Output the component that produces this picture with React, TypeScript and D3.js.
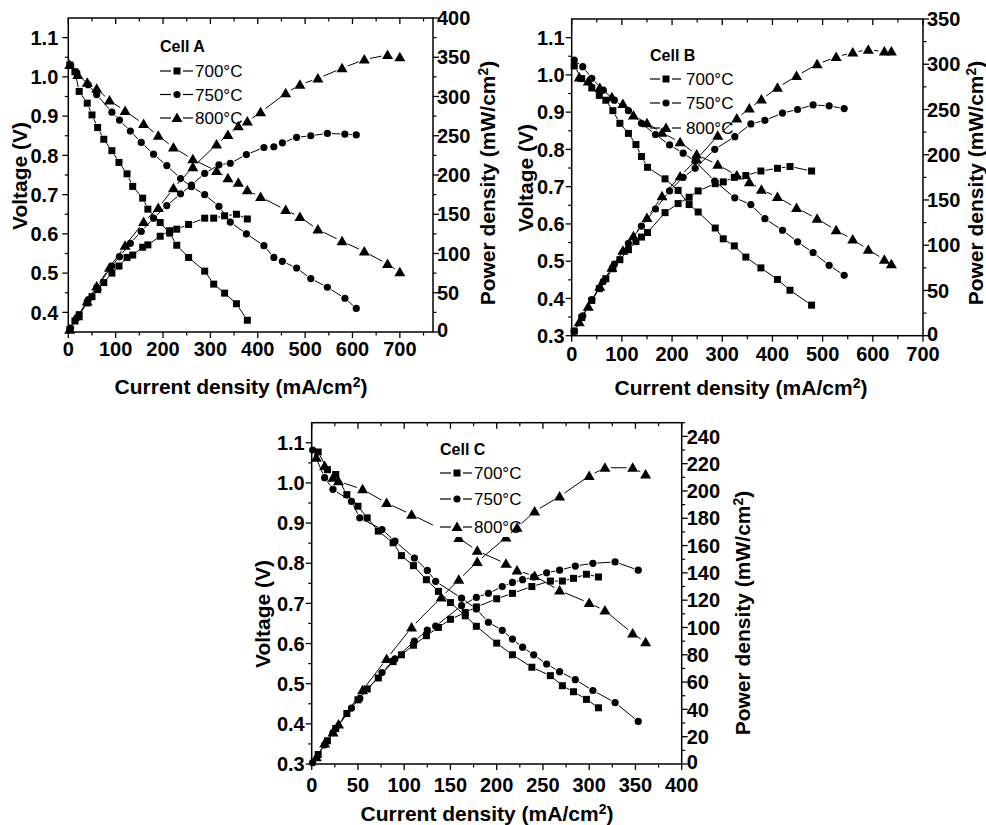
import React from 'react';
import * as d3 from 'd3';

// ---- Cell A ----
const aI700 = [3, 14, 23, 40, 50, 62, 75, 92, 107, 124, 136, 157, 168, 194, 214, 229, 254, 288, 307, 330, 355, 378];
const aV700 = [1.03, 1.013, 0.963, 0.933, 0.903, 0.871, 0.841, 0.812, 0.782, 0.753, 0.721, 0.691, 0.663, 0.629, 0.602, 0.571, 0.54, 0.505, 0.472, 0.449, 0.422, 0.38];
const aP700 = [3, 14, 22, 37, 45, 54, 63, 75, 84, 95, 98, 108, 111, 122, 129, 131, 137, 145, 145, 148, 150, 144];

const aI750 = [5, 18, 42, 60, 92, 108, 131, 154, 180, 208, 237, 260, 288, 318, 342, 376, 413, 434, 452, 482, 512, 547, 584, 608];
const aV750 = [1.03, 1.01, 0.98, 0.955, 0.91, 0.89, 0.862, 0.833, 0.803, 0.774, 0.741, 0.72, 0.7, 0.67, 0.63, 0.6, 0.57, 0.54, 0.53, 0.513, 0.486, 0.464, 0.436, 0.41];
const aP750 = [5, 18, 41, 57, 84, 96, 113, 128, 145, 161, 176, 187, 202, 213, 215, 226, 235, 236, 241, 248, 250, 253, 252, 251];

const aI800 = [3, 20, 40, 60, 87, 120, 159, 190, 222, 263, 313, 337, 359, 378, 406, 459, 489, 527, 578, 625, 674, 700];
const aV800 = [1.03, 1.005, 0.985, 0.97, 0.94, 0.913, 0.88, 0.85, 0.82, 0.79, 0.76, 0.742, 0.73, 0.711, 0.694, 0.661, 0.643, 0.611, 0.581, 0.555, 0.523, 0.502];
const aP800 = [3, 20, 39, 58, 82, 110, 140, 158, 183, 210, 239, 251, 262, 268, 280, 304, 315, 323, 336, 347, 353, 350];

// ---- Cell B ----
const bI700 = [5, 20, 40, 55, 68, 82, 96, 113, 128, 139, 151, 186, 212, 234, 252, 286, 302, 324, 347, 377, 410, 435, 478];
const bV700 = [1.024, 0.99, 0.965, 0.945, 0.932, 0.904, 0.87, 0.843, 0.813, 0.781, 0.752, 0.721, 0.69, 0.652, 0.632, 0.589, 0.56, 0.541, 0.511, 0.482, 0.451, 0.422, 0.382];
const bP700 = [5, 20, 39, 52, 63, 74, 84, 95, 104, 109, 114, 136, 146, 153, 160, 168, 170, 175, 177, 182, 185, 187, 182];

const bI750 = [5, 22, 40, 63, 85, 113, 139, 167, 195, 222, 246, 285, 325, 357, 385, 420, 450, 481, 513, 543];
const bV750 = [1.04, 1.022, 0.991, 0.959, 0.932, 0.904, 0.87, 0.84, 0.812, 0.79, 0.768, 0.715, 0.67, 0.652, 0.614, 0.583, 0.552, 0.523, 0.489, 0.462];
const bP750 = [5, 22, 40, 60, 79, 102, 121, 140, 160, 175, 185, 206, 220, 234, 238, 246, 250, 255, 254, 251];

const bI800 = [15, 33, 56, 80, 102, 123, 150, 180, 216, 249, 291, 329, 354, 378, 410, 448, 489, 527, 560, 591, 623, 637];
const bV800 = [0.993, 0.982, 0.965, 0.94, 0.922, 0.891, 0.87, 0.845, 0.819, 0.786, 0.759, 0.73, 0.712, 0.692, 0.672, 0.643, 0.614, 0.583, 0.558, 0.531, 0.504, 0.492];
const bP800 = [15, 32, 54, 75, 94, 110, 130, 154, 176, 195, 221, 240, 251, 261, 274, 287, 300, 308, 313, 316, 314, 314];

// ---- Cell C ----
const cI700 = [7, 17, 26, 38, 50, 60, 72, 88, 97, 110, 124, 137, 150, 166, 178, 200, 217, 238, 258, 271, 283, 297, 310];
const cV700 = [1.077, 1.033, 1.021, 0.971, 0.942, 0.913, 0.88, 0.851, 0.819, 0.794, 0.759, 0.73, 0.702, 0.669, 0.643, 0.601, 0.572, 0.541, 0.52, 0.495, 0.48, 0.461, 0.44];
const cP700 = [7, 17, 26, 37, 47, 55, 63, 75, 80, 87, 94, 100, 106, 111, 115, 121, 125, 130, 134, 134, 136, 139, 137];

const cI750 = [1, 14, 23, 43, 52, 76, 90, 111, 125, 134, 162, 178, 191, 206, 217, 228, 240, 254, 268, 285, 304, 328, 353];
const cV750 = [1.082, 1.013, 0.984, 0.954, 0.913, 0.884, 0.855, 0.813, 0.782, 0.755, 0.713, 0.686, 0.653, 0.633, 0.611, 0.591, 0.572, 0.549, 0.53, 0.51, 0.483, 0.453, 0.406];
const cP750 = [1, 14, 23, 41, 48, 67, 77, 90, 98, 101, 116, 122, 125, 130, 133, 135, 137, 140, 142, 145, 147, 148, 142];

const cI800 = [5, 14, 23, 29, 55, 81, 108, 140, 159, 179, 210, 222, 241, 268, 300, 317, 347, 361];
const cV800 = [1.063, 1.042, 1.013, 1.004, 0.984, 0.95, 0.921, 0.885, 0.863, 0.831, 0.799, 0.782, 0.768, 0.732, 0.701, 0.682, 0.625, 0.603];
const cP800 = [5, 15, 23, 29, 54, 77, 100, 122, 135, 148, 166, 173, 185, 196, 211, 217, 217, 212];

const tempLabels = ['700\u00B0C', '750\u00B0C', '800\u00B0C'];
const markerKinds = ['square', 'circle', 'triangle'];

const FONT = '"Liberation Sans", Arial, Helvetica, sans-serif';

function Marker({ kind, x, y }) {
  if (kind === 'square') return <rect x={x - 3.5} y={y - 3.5} width={7} height={7} fill="#000" />;
  if (kind === 'circle') return <circle cx={x} cy={y} r={3.6} fill="#000" />;
  return <path d={`M${x},${y - 5.5}L${x + 5.5},${y + 4}L${x - 5.5},${y + 4}Z`} fill="#000" />;
}

// segments between points, with a small gap round each symbol
function GapLine({ pts, gap }) {
  const segs = [];
  for (let i = 1; i < pts.length; i++) {
    const [x0, y0] = pts[i - 1];
    const [x1, y1] = pts[i];
    const len = Math.hypot(x1 - x0, y1 - y0);
    if (len <= gap * 2 + 1) continue;
    const ux = (x1 - x0) / len, uy = (y1 - y0) / len;
    segs.push(<line key={i} x1={x0 + ux * gap} y1={y0 + uy * gap} x2={x1 - ux * gap} y2={y1 - uy * gap} stroke="#000" strokeWidth={1} />);
  }
  return <g>{segs}</g>;
}

function steps(from, to, step) {
  const n = Math.round((to - from) / step);
  return d3.range(n + 1).map((i) => +(from + i * step).toFixed(4));
}

function Panel({ cfg }) {
  const x = d3.scaleLinear().domain(cfg.xDomain).range([cfg.left, cfg.right]);
  const yv = d3.scaleLinear().domain(cfg.vDomain).range([cfg.bottom, cfg.top]);
  const yp = d3.scaleLinear().domain(cfg.pDomain).range([cfg.bottom, cfg.top]);
  const fmtV = d3.format('.1f');
  const major = 6, minor = 3.5;

  return (
    <g>
      {/* frame */}
      <rect x={cfg.left} y={cfg.top} width={cfg.right - cfg.left} height={cfg.bottom - cfg.top} fill="none" stroke="#000" strokeWidth={1.5} />

      {/* bottom + top ticks */}
      {cfg.xMajor.map((v) => (
        <g key={'xm' + v}>
          <line x1={x(v)} x2={x(v)} y1={cfg.bottom} y2={cfg.bottom + major} stroke="#000" strokeWidth={1.3} />
          <line x1={x(v)} x2={x(v)} y1={cfg.top} y2={cfg.top + major} stroke="#000" strokeWidth={1.3} />
          <text x={x(v)} y={cfg.bottom + cfg.xLabelDy} textAnchor="middle" fontSize={20} fontWeight="bold">{v}</text>
        </g>
      ))}
      {cfg.xMinor.map((v) => (
        <g key={'xn' + v}>
          <line x1={x(v)} x2={x(v)} y1={cfg.bottom} y2={cfg.bottom + minor} stroke="#000" strokeWidth={1.2} />
          <line x1={x(v)} x2={x(v)} y1={cfg.top} y2={cfg.top + minor} stroke="#000" strokeWidth={1.2} />
        </g>
      ))}

      {/* left axis */}
      {cfg.vMajor.map((v) => (
        <g key={'vm' + v}>
          <line x1={cfg.left - major} x2={cfg.left} y1={yv(v)} y2={yv(v)} stroke="#000" strokeWidth={1.3} />
          <text x={cfg.left - cfg.vLabelGap} y={yv(v)} dy="0.36em" textAnchor="end" fontSize={20} fontWeight="bold">{fmtV(v)}</text>
        </g>
      ))}
      {cfg.vMinor.map((v) => (
        <line key={'vn' + v} x1={cfg.left - minor} x2={cfg.left} y1={yv(v)} y2={yv(v)} stroke="#000" strokeWidth={1.2} />
      ))}

      {/* right axis */}
      {cfg.pMajor.map((v) => (
        <g key={'pm' + v}>
          <line x1={cfg.right} x2={cfg.right + major} y1={yp(v)} y2={yp(v)} stroke="#000" strokeWidth={1.3} />
          <text x={cfg.right + cfg.pLabelGap} y={yp(v) - (v === 0 ? 2 : 0)} dy="0.36em" textAnchor="start" fontSize={20} fontWeight="bold">{v}</text>
        </g>
      ))}
      {cfg.pMinor.map((v) => (
        <line key={'pn' + v} x1={cfg.right} x2={cfg.right + minor} y1={yp(v)} y2={yp(v)} stroke="#000" strokeWidth={1.2} />
      ))}

      {/* axis titles */}
      <text x={cfg.xTitle[0]} y={cfg.xTitle[1]} textAnchor="middle" fontSize={21} fontWeight="bold">
        Current density (mA/cm<tspan dy={-7} fontSize={14}>2</tspan><tspan dy={7}>)</tspan>
      </text>
      <text transform={`translate(${cfg.vTitle[0]},${cfg.vTitle[1]}) rotate(-90)`} textAnchor="middle" dy="0.36em" fontSize={21} fontWeight="bold">
        Voltage (V)
      </text>
      <text transform={`translate(${cfg.pTitle[0]},${cfg.pTitle[1]}) rotate(-90)`} textAnchor="middle" dy="0.36em" fontSize={21} fontWeight="bold">
        Power density (mW/cm<tspan dy={-7} fontSize={14}>2</tspan><tspan dy={7}>)</tspan>
      </text>

      {/* data */}
      {cfg.series.map((s, k) => {
        const kind = markerKinds[k];
        const gap = kind === 'triangle' ? 6 : 4.5;
        const vPts = s.cur.map((c, i) => [x(c), yv(s.volt[i])]);
        const pPts = s.cur.map((c, i) => [x(c), yp(s.pow[i])]);
        return (
          <g key={'s' + k}>
            <GapLine pts={vPts} gap={gap} />
            <GapLine pts={pPts} gap={gap} />
            {vPts.map(([px, py], i) => <Marker key={'v' + i} kind={kind} x={px} y={py} />)}
            {pPts.map(([px, py], i) => <Marker key={'p' + i} kind={kind} x={px} y={py} />)}
          </g>
        );
      })}

      {/* legend (opaque where the original legend box hides data) */}
      {cfg.legend.cover && (
        <rect x={cfg.legend.cover[0]} y={cfg.legend.cover[1]} width={cfg.legend.cover[2]} height={cfg.legend.cover[3]} fill="#fff" />
      )}
      <text x={cfg.legend.x} y={cfg.legend.titleY} fontSize={16} fontWeight="bold">{cfg.name}</text>
      {tempLabels.map((t, k) => {
        const ly = cfg.legend.rows[k];
        const mx = cfg.legend.markX;
        return (
          <g key={'lg' + k}>
            <line x1={cfg.legend.x} x2={mx - 6} y1={ly} y2={ly} stroke="#000" strokeWidth={1.2} />
            <line x1={mx + 6} x2={cfg.legend.lineEnd} y1={ly} y2={ly} stroke="#000" strokeWidth={1.2} />
            <Marker kind={markerKinds[k]} x={mx} y={ly} />
            <text x={cfg.legend.textX} y={ly} dy="0.36em" fontSize={17}>{t}</text>
          </g>
        );
      })}
    </g>
  );
}

const panels = [
  {
    name: 'Cell A',
    left: 68.3, right: 433, top: 18, bottom: 332,
    xDomain: [0, 770], xMajor: steps(0, 700, 100), xMinor: steps(50, 750, 100),
    vDomain: [0.35, 1.15], vMajor: steps(0.4, 1.1, 0.1), vMinor: steps(0.45, 1.05, 0.1),
    pDomain: [0, 400], pMajor: steps(0, 400, 50), pMinor: steps(25, 375, 50),
    xLabelDy: 24, vLabelGap: 10, pLabelGap: 4,
    xTitle: [241, 394], vTitle: [19, 176], pTitle: [487, 183],
    legend: { x: 160, titleY: 52, rows: [71, 94.5, 118], markX: 177, lineEnd: 193, textX: 195 },
    series: [
      { cur: aI700, volt: aV700, pow: aP700 },
      { cur: aI750, volt: aV750, pow: aP750 },
      { cur: aI800, volt: aV800, pow: aP800 },
    ],
  },
  {
    name: 'Cell B',
    left: 571.7, right: 923, top: 19, bottom: 335.7,
    xDomain: [0, 700], xMajor: steps(0, 700, 100), xMinor: steps(50, 650, 100),
    vDomain: [0.3, 1.15], vMajor: steps(0.3, 1.1, 0.1), vMinor: steps(0.35, 1.05, 0.1),
    pDomain: [0, 350], pMajor: steps(0, 350, 50), pMinor: steps(25, 325, 50),
    xLabelDy: 25, vLabelGap: 7, pLabelGap: 4,
    xTitle: [741, 395], vTitle: [525, 178], pTitle: [975, 183],
    legend: { x: 650, titleY: 61, rows: [79, 103, 128], markX: 666, lineEnd: 681, textX: 686 },
    series: [
      { cur: bI700, volt: bV700, pow: bP700 },
      { cur: bI750, volt: bV750, pow: bP750 },
      { cur: bI800, volt: bV800, pow: bP800 },
    ],
  },
  {
    name: 'Cell C',
    left: 311.7, right: 681.7, top: 422.7, bottom: 764,
    xDomain: [0, 400], xMajor: steps(0, 400, 50), xMinor: steps(25, 375, 50),
    vDomain: [0.3, 1.15], vMajor: steps(0.3, 1.1, 0.1), vMinor: steps(0.35, 1.05, 0.1),
    pDomain: [0, 250], pMajor: steps(0, 240, 20), pMinor: steps(10, 250, 20),
    xLabelDy: 28, vLabelGap: 7, pLabelGap: 5,
    xTitle: [487, 821], vTitle: [262, 614], pTitle: [742, 613],
    legend: { x: 440, titleY: 455, rows: [473, 499, 527], markX: 457, lineEnd: 472, textX: 474, cover: [433, 440, 78, 97] },
    series: [
      { cur: cI700, volt: cV700, pow: cP700 },
      { cur: cI750, volt: cV750, pow: cP750 },
      { cur: cI800, volt: cV800, pow: cP800 },
    ],
  },
];

export default function App() {
  return (
    <svg
      width={986}
      height={825}
      style={{ position: 'absolute', left: 0, top: 0, background: '#fff' }}
      fontFamily={FONT}
    >
      <rect width={986} height={825} fill="#fff" />
      {panels.map((p) => <Panel key={p.name} cfg={p} />)}
    </svg>
  );
}
